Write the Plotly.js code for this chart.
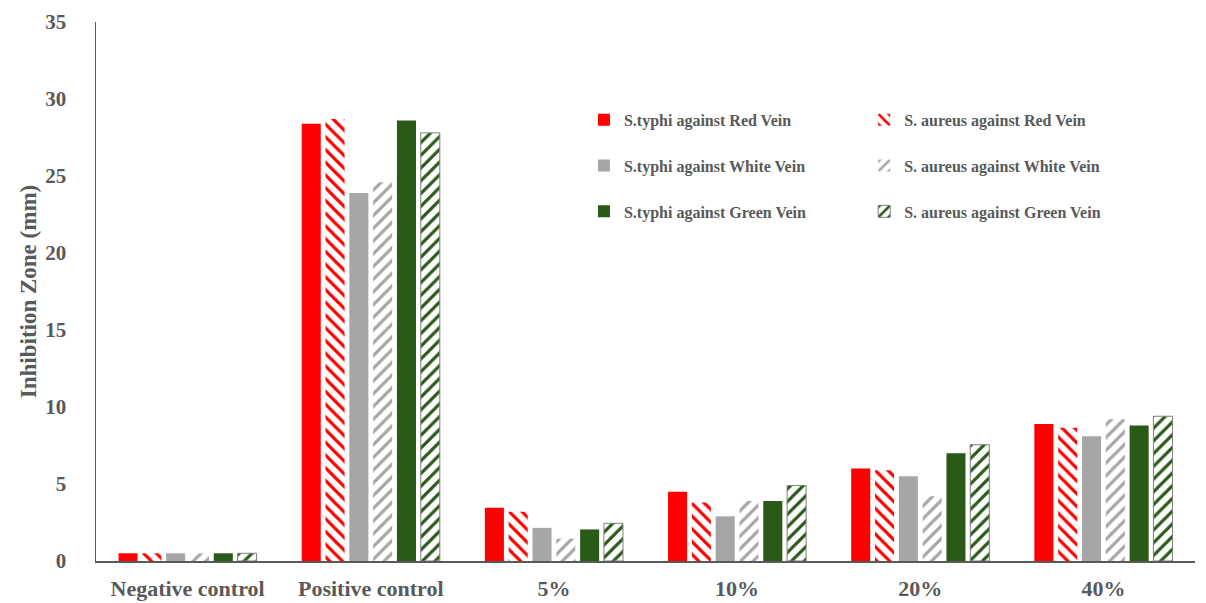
<!DOCTYPE html>
<html>
<head>
<meta charset="utf-8">
<script src="https://cdn.plot.ly/plotly-3.0.1.min.js"></script>
<style>html,body{margin:0;padding:0;background:#fff;}#chart{width:1206px;height:603px;}</style>
</head>
<body>
<div id="chart"></div>
<script>
const categories = ["Negative control", "Positive control", "5%", "10%", "20%", "40%"];
const typhiRed    = [0.5, 28.4, 3.45, 4.5, 6.0, 8.9];
const aureusRed   = [0.5, 28.7, 3.2, 3.8, 5.9, 8.65];
const typhiWhite  = [0.5, 23.9, 2.15, 2.9, 5.5, 8.1];
const aureusWhite = [0.5, 24.6, 1.45, 3.9, 4.2, 9.2];
const typhiGreen  = [0.5, 28.6, 2.05, 3.9, 7.0, 8.8];
const aureusGreen = [0.5, 27.8, 2.45, 4.9, 7.55, 9.4];
const seriesNames = [
  "S.typhi against Red Vein", "S. aureus against Red Vein",
  "S.typhi against White Vein", "S. aureus against White Vein",
  "S.typhi against Green Vein", "S. aureus against Green Vein"
];

const RED = "#FF0000", GRAY = "#A6A6A6", GREEN = "#2A5A18";

function solid(name, y, color, legend, grp) {
  return {type: "bar", name: name, x: categories, y: y, legend: legend, legendgroup: grp,
    marker: {color: color, line: {width: 0}}};
}
function hatched(name, y, color, shape, legend, grp, lineColor) {
  return {type: "bar", name: name, x: categories, y: y, legend: legend, legendgroup: grp,
    marker: {color: "#FFFFFF",
      pattern: {shape: shape, fgcolor: color, bgcolor: "#FFFFFF", size: 9, solidity: 0.36, fillmode: "replace"},
      line: {color: lineColor || "rgba(0,0,0,0)", width: lineColor ? 1 : 0}}};
}

const data = [
  solid(seriesNames[0], typhiRed, RED, "legend", "a"),
  hatched(seriesNames[1], aureusRed, RED, "\\", "legend2", "b"),
  solid(seriesNames[2], typhiWhite, GRAY, "legend", "c"),
  hatched(seriesNames[3], aureusWhite, GRAY, "/", "legend2", "d"),
  solid(seriesNames[4], typhiGreen, GREEN, "legend", "e"),
  hatched(seriesNames[5], aureusGreen, GREEN, "/", "legend2", "f", "#7F7F7F")
];

const serif = "Liberation Serif, Times New Roman, serif";
const legendCommon = {
  font: {family: serif, size: 16, color: "#595959", weight: "bold"},
  traceorder: "grouped", tracegroupgap: 22, bgcolor: "rgba(0,0,0,0)",
  itemwidth: 30, yanchor: "top", xanchor: "left"
};

const layout = {
  width: 1206, height: 603,
  margin: {l: 96, r: 11, t: 22, b: 42},
  paper_bgcolor: "#FFFFFF", plot_bgcolor: "#FFFFFF",
  barmode: "group", bargap: 0.22, bargroupgap: 0.2,
  font: {family: serif, color: "#595959"},
  xaxis: {
    type: "category",
    showline: true, linecolor: "#595959", linewidth: 1.5, ticks: "",
    tickfont: {family: serif, size: 22, color: "#595959", weight: "bold"},
    showgrid: false, zeroline: false, ticklabelstandoff: 7
  },
  yaxis: {
    range: [0, 35], dtick: 5, showline: true, linecolor: "#595959", linewidth: 1.5,
    ticks: "", showgrid: false, zeroline: false, ticklabelstandoff: 24,
    tickfont: {family: serif, size: 21, color: "#595959", weight: "bold"},
    title: {text: "Inhibition Zone (mm)", standoff: 2,
      font: {family: serif, size: 23, color: "#595959", weight: "bold"}}
  },
  legend: Object.assign({}, legendCommon, {x: 0.444, y: 0.85}),
  legend2: Object.assign({}, legendCommon, {x: 0.699, y: 0.85}),
  showlegend: true
};

Plotly.newPlot("chart", data, layout, {displayModeBar: false, staticPlot: true});
</script>
</body>
</html>
